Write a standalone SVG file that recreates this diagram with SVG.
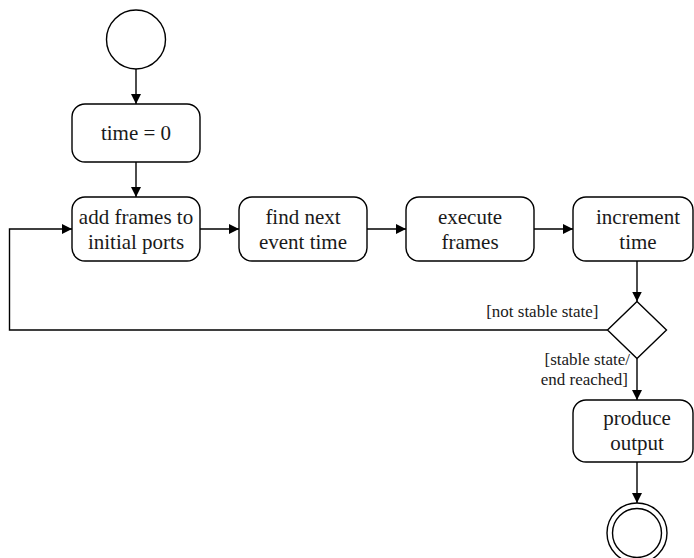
<svg xmlns="http://www.w3.org/2000/svg" width="694" height="558" viewBox="0 0 694 558">
  <style>
    .box { fill: #ffffff; stroke: #000000; stroke-width: 1.4; }
    .node-text { font-family: "Liberation Serif", "Noto Serif", "DejaVu Serif", "Times New Roman", Times, serif; font-size: 21px; fill: #1a1a1a; text-anchor: middle; }
    .guard { font-family: "Liberation Serif", "Noto Serif", "DejaVu Serif", "Times New Roman", Times, serif; font-size: 17px; fill: #1a1a1a; text-anchor: end; }
    .edge { fill: none; stroke: #000000; stroke-width: 1.4; }
  </style>
  <defs>
    <marker id="arrow" viewBox="0 0 10 10" refX="10" refY="5" markerWidth="10" markerHeight="10" markerUnits="userSpaceOnUse" orient="auto">
      <path d="M0,0 L10,5 L0,10 Z" fill="#000000"/>
    </marker>
  </defs>
  <rect width="694" height="558" fill="#ffffff"/>

  <!-- connectors and guard labels -->
  <g id="connectors">
    <line class="edge" x1="136" y1="69" x2="136" y2="104" marker-end="url(#arrow)"/>
    <line class="edge" x1="136" y1="162" x2="136" y2="197" marker-end="url(#arrow)"/>
    <line class="edge" x1="200" y1="229" x2="239" y2="229" marker-end="url(#arrow)"/>
    <line class="edge" x1="367" y1="229" x2="406" y2="229" marker-end="url(#arrow)"/>
    <line class="edge" x1="534" y1="229" x2="573" y2="229" marker-end="url(#arrow)"/>
    <line class="edge" x1="637" y1="261" x2="637" y2="301.5" marker-end="url(#arrow)"/>
    <polyline class="edge" points="607.5,330 9.5,330 9.5,229 72,229" marker-end="url(#arrow)"/>
    <line class="edge" x1="637" y1="358.5" x2="637" y2="400" marker-end="url(#arrow)"/>
    <line class="edge" x1="637" y1="462" x2="637" y2="503" marker-end="url(#arrow)"/>
    <text class="guard" x="598.5" y="317">[not stable state]</text>
    <text class="guard" x="630" y="365">[stable state/</text>
    <text class="guard" x="628" y="385">end reached]</text>
  </g>

  <g id="start">
    <circle cx="136" cy="39.5" r="29.5" fill="#ffffff" stroke="#000000" stroke-width="1.4"/>
  </g>

  <g id="init-time">
    <rect class="box" x="72" y="104" width="128" height="58" rx="13"/>
    <text class="node-text" x="136" y="140">time = 0</text>
  </g>

  <g id="add-frames">
    <rect class="box" x="72" y="197" width="128" height="64" rx="13"/>
    <text class="node-text" x="136" y="224">add frames to</text>
    <text class="node-text" x="136" y="249">initial ports</text>
  </g>

  <g id="find-next">
    <rect class="box" x="239" y="197" width="128" height="64" rx="13"/>
    <text class="node-text" x="303" y="224">find next</text>
    <text class="node-text" x="303" y="249">event time</text>
  </g>

  <g id="execute">
    <rect class="box" x="406" y="197" width="128" height="64" rx="13"/>
    <text class="node-text" x="470" y="224">execute</text>
    <text class="node-text" x="470" y="249">frames</text>
  </g>

  <g id="increment">
    <rect class="box" x="573" y="197" width="120" height="64" rx="13"/>
    <text class="node-text" x="638" y="224">increment</text>
    <text class="node-text" x="638" y="249">time</text>
  </g>

  <g id="decision">
    <polygon points="637,301.5 666.5,330 637,358.5 607.5,330" fill="#ffffff" stroke="#000000" stroke-width="1.4"/>
  </g>

  <g id="produce">
    <rect class="box" x="573" y="400" width="120" height="62" rx="13"/>
    <text class="node-text" x="637" y="425">produce</text>
    <text class="node-text" x="637" y="450">output</text>
  </g>

  <g id="end">
    <circle cx="637" cy="533" r="30" fill="#ffffff" stroke="#000000" stroke-width="1.4"/>
    <circle cx="637" cy="533" r="24.5" fill="#ffffff" stroke="#000000" stroke-width="1.4"/>
  </g>
</svg>
